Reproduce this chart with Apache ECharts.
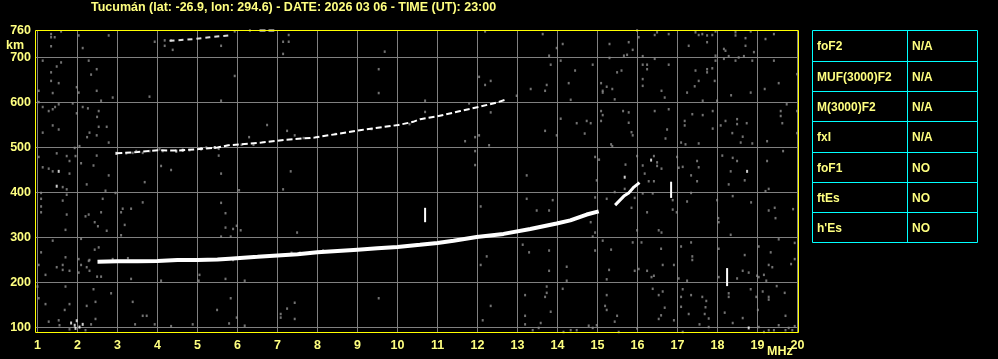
<!DOCTYPE html>
<html><head><meta charset="utf-8">
<script src="https://cdn.jsdelivr.net/npm/echarts@6/dist/echarts.min.js"></script>
<style>html,body{margin:0;padding:0;background:#000;}#c{width:998px;height:359px;}</style>
</head><body><div id="c"></div>
<script>
const titleText = 'Tucumán (lat: -26.9, lon: 294.6) - DATE: 2026 03 06 - TIME (UT): 23:00';
const xTicks = [1,2,3,4,5,6,7,8,9,10,11,12,13,14,15,16,17,18,19,20];
const yTicks = [100,200,300,400,500,600,700];
const yLabels = [100,200,300,400,500,600,700,760];
const xUnit = 'MHz';
const yUnit = 'km';

// main F trace (frequency MHz, virtual height km)
const lowerTrace = [[2.5,246],[3.0,247],[3.5,247],[4.0,248],[4.5,250],[5.0,250],[5.5,251],[5.8,253],[6.5,257],[7.0,260],[7.5,263],[8.0,267],[8.5,270],[9.0,273],[9.5,276],[10.0,279],[10.56,284],[11.0,288],[11.4,293],[11.98,301],[12.65,308],[13.32,319],[13.98,331],[14.32,338],[14.73,351],[15.03,358]];
const risingTrace = [[15.44,372],[15.66,392],[15.78,399],[15.91,412],[16.05,422]];
const secondHop = [[2.97,487],[3.5,490],[4.05,494],[4.5,493],[5.1,497],[5.5,500],[5.77,505],[6.6,511],[7.18,517],[7.93,522],[8.27,527],[9.1,539],[9.43,543],[10.02,550],[10.39,557],[10.57,563],[10.98,569],[11.57,581],[12.03,590],[12.48,600],[12.69,606]];
const thirdHopA = [[4.3,737],[4.9,741],[5.3,745],[5.8,749]];
const thirdHopB = [[6.55,760],[6.92,760]];
const verticalBars = [[[10.69,334],[10.69,366]],[[16.84,388],[16.84,424]],[[18.24,192],[18.24,232]]];
const whiteDots = [[1.53,447],[1.48,414],[1.84,110],[1.93,105],[1.98,115],[2.05,101],[2.13,107],[1.95,98],[15.68,434],[16.34,472],[18.74,447],[18.78,99],[2.97,487],[4.47,492],[4.63,494],[5.09,497],[5.43,500]];
const grayDots = [
[1.34,752],[1.59,758],[1.34,745],[1.43,745],[1.34,725],[2.03,749],[2.78,749],[2.13,721],[3.93,735],[4.18,738],[4.18,726],[4.34,738],[4.38,717],[5.59,726],
[1.13,693],[1.59,689],[1.48,680],[2.28,693],[2.48,674],[1.34,667],[2.34,662],[1.34,648],[1.53,643],[1.98,634],[1.03,626],[2.03,622],[2.48,626],[1.38,621],[2.88,611],[3.80,613],[2.59,604],[5.59,604],[1.03,601],[1.53,596],[1.88,598],[1.13,590],[1.28,581],[1.38,585],[1.44,590],[2.13,590],[2.26,587],[2.53,581],[1.98,576],[2.49,568],[1.38,549],[1.53,540],[1.13,533],[2.53,546],[2.73,546],[2.30,533],[2.24,523],[2.48,527],[2.78,511],[2.05,503],[1.93,499],
[3.22,487],[3.38,488],[3.47,492],[3.63,488],[3.80,492],[4.05,496],[4.13,492],[4.80,494],[5.22,500],[5.53,497],
[1.03,479],[1.48,487],[1.73,481],[1.95,481],[2.48,482],[1.80,470],[2.09,465],[1.13,456],[1.28,453],[1.38,447],[1.80,442],[2.40,460],[2.78,438],[4.09,459],[4.34,450],[5.59,442],[5.53,482],[1.63,412],[1.73,407],[2.23,418],[3.68,423],[2.70,404],[2.95,399],[1.73,395],[1.09,399],[1.09,386],[1.63,382],[2.63,386],[3.63,378],[3.13,364],[3.34,364],[1.09,369],[1.09,356],[1.73,351],[2.28,351],[2.20,347],[2.59,356],[3.09,356],[5.59,377],[5.70,354],[2.43,334],[2.51,325],[2.73,315],[3.18,328],[1.70,317],[3.09,305],[5.70,322],[5.59,302],[2.09,297],[1.38,293],[1.09,267],[2.43,273],[2.53,278],[1.70,256],[2.03,252],[2.28,248],[1.03,239],[1.48,234],[1.63,239],[1.63,228],[2.09,239],[2.23,234],[2.30,226],[1.20,217],[1.80,226],[2.03,222],[2.49,213],[2.59,213],[3.34,208],[4.09,204],[5.05,217],[5.03,204],[5.70,208],[1.0,191],[1.70,191],[2.40,185],[2.84,176],[1.03,165],[1.20,152],[1.80,152],[2.23,148],[2.45,157],[3.38,157],[1.68,139],[3.63,126],[3.73,126],[5.49,139],[1.28,113],[1.53,116],[2.45,119],[2.34,107],[3.44,107],[3.93,107],[4.34,103],[4.88,107],[2.20,94],[1.80,96],[1.55,105],
[2.30,250],[2.88,252],[3.26,254],
[5.93,758],[6.31,760],[7.28,750],[7.14,735],[7.28,735],[7.14,708],[9.68,713],[5.93,659],[9.53,674],[9.53,621],[6.74,550],[6.29,523],[7.24,537],[7.43,527],[7.33,447],[6.04,405],[7.14,407],[5.89,319],[5.98,326],[6.08,316],[5.83,302],[7.49,311],[5.89,250],[6.18,204],[5.83,165],[9.53,165],[7.43,155],[7.24,142],[7.08,130],[7.08,122],[7.43,119],[5.98,122],[6.18,104],[5.79,109],
[7.35,266],[7.56,266],[8.14,271],[7.65,521],[8.45,530],[9.35,541],[10.3,552],[6.1,506],[6.4,506],
[12.19,758],[13.63,752],[14.13,730],[13.98,721],[15.30,730],[13.79,704],[14.08,693],[13.83,684],[14.88,684],[15.30,699],[14.44,671],[12.04,657],[12.33,648],[12.19,639],[14.28,643],[13.73,639],[13.69,626],[13.33,630],[15.23,635],[15.13,626],[15.09,643],[15.13,622],[12.98,615],[14.33,606],[10.69,604],[10.69,579],[11.79,598],[12.33,578],[14.08,564],[14.48,554],[14.73,559],[14.83,554],[14.68,531],[15.09,581],[15.13,572],[15.09,559],[13.69,537],[13.98,527],[12.04,527],[11.94,523],[11.69,514],[12.29,505],[11.94,492],[11.94,461],[13.23,438],[14.98,427],[14.94,479],[15.04,473],[15.34,507],[12.08,369],[13.23,386],[13.48,360],[13.79,360],[13.88,383],[14.94,389],[15.23,386],[14.83,334],[14.94,311],[14.88,302],[15.13,293],[14.94,271],[15.34,273],[13.13,284],[13.29,267],[13.79,271],[12.23,258],[12.08,239],[14.23,235],[13.79,226],[15.29,228],[14.23,204],[15.23,207],[13.73,191],[14.13,186],[13.73,177],[13.69,168],[13.19,172],[15.23,172],[12.33,148],[15.19,148],[13.83,135],[15.23,139],[13.19,126],[13.19,107],[12.13,116],[13.58,110],[13.38,94],[13.53,99],[14.15,90],[14.33,94],[14.48,94],[14.78,104],[14.98,105],[14.88,99],
[15.99,760],[16.49,756],[16.43,750],[16.78,752],[17.45,756],[17.53,750],[17.62,752],[17.74,749],[17.74,734],[17.87,750],[17.95,758],[18.45,756],[18.45,749],[18.70,743],[18.83,758],[19.41,752],[15.78,734],[15.88,717],[15.74,706],[15.66,704],[16.03,745],[16.13,703],[16.13,684],[16.24,684],[16.24,674],[16.43,697],[16.78,684],[17.28,726],[17.45,671],[17.74,674],[17.74,667],[17.87,676],[17.95,704],[17.95,693],[18.16,719],[18.20,715],[18.16,697],[18.28,703],[18.45,693],[18.53,700],[18.66,703],[18.70,726],[18.91,712],[18.87,693],[19.20,741],[19.41,693],
[15.49,667],[15.60,671],[16.13,652],[16.13,637],[16.60,626],[16.68,611],[17.24,622],[17.53,648],[17.43,636],[17.93,648],[17.63,604],[17.99,604],[18.34,616],[18.83,622],[19.18,630],[19.53,643],[19.99,663],[15.37,630],[15.43,607],[19.73,596],[19.99,581],[15.64,581],[15.78,578],[15.78,555],[15.85,534],[15.88,527],[16.43,581],[16.78,585],[16.74,540],[16.70,520],[17.18,559],[17.18,549],[17.37,574],[17.63,572],[17.88,581],[17.88,542],[18.08,549],[18.20,559],[18.49,563],[18.49,552],[18.73,554],[18.63,524],[18.87,509],[18.58,511],[18.37,532],[19.24,514],[19.58,581],[19.58,570],[19.62,554],[19.99,532],[17.20,507],[17.53,509],[17.09,511],[15.37,503],
[15.99,481],[15.70,462],[16.18,442],[16.13,460],[16.28,425],[16.41,425],[16.41,481],[16.49,467],[16.49,459],[16.60,453],[16.99,479],[17.03,455],[17.13,457],[17.34,438],[17.49,425],[17.49,470],[17.53,456],[18.12,482],[18.38,477],[18.49,470],[18.33,447],[18.28,418],[18.68,427],[19.24,470],[19.64,492],[19.28,408],[19.20,403],[15.43,401],[15.68,408],[15.93,388],[16.13,398],[16.38,398],[16.88,383],[16.88,362],[16.98,356],[16.24,356],[15.85,366],[17.34,399],[17.24,380],[17.99,383],[18.02,343],[18.03,334],[18.38,392],[18.84,378],[19.28,360],[19.43,366],[19.45,343],[19.53,296],[19.89,363],[18.33,306],[16.53,316],[16.60,311],[15.99,316],[15.88,289],[16.10,289],[16.59,275],[17.09,280],[17.34,289],[17.37,258],[17.37,250],[18.03,275],[19.03,280],[19.33,267],[19.93,288],[19.84,241],[19.93,252],[18.68,261],[19.28,239],[19.37,234],
[15.93,226],[16.03,230],[16.24,226],[16.41,215],[16.35,212],[16.63,239],[16.91,239],[17.03,209],[17.24,204],[18.03,212],[18.49,209],[18.63,226],[18.78,222],[18.99,215],[19.03,212],[19.16,217],[19.22,204],[19.48,192],[19.68,177],[16.38,186],[16.53,172],[16.63,180],[17.13,185],[17.09,168],[17.09,146],[17.34,172],[17.62,168],[17.72,159],[18.28,176],[18.28,168],[18.83,185],[18.97,168],[19.01,139],[19.13,180],[19.28,168],[19.28,162],[15.49,126],[15.43,113],[15.99,98],[15.53,90],[16.53,119],[16.59,127],[16.68,144],[16.91,116],[17.13,90],[17.28,130],[17.55,107],[17.70,145],[17.68,130],[17.78,120],[17.78,101],[18.18,133],[18.38,110],[18.63,121],[19.03,101],[19.16,90],[19.28,94],[19.41,94],[19.53,105],[19.70,126],[19.70,94],[19.78,99],[19.87,94],[19.93,103]
];

const tableLabels = ['foF2','MUF(3000)F2','M(3000)F2','fxI','foF1','ftEs',"h'Es"];
const tableValues = ['N/A','N/A','N/A','N/A','NO','NO','NO'];

const yellowText = '#ffff80';
const font = '"Liberation Sans", Arial, sans-serif';
const chart = echarts.init(document.getElementById('c'), null, {renderer:'canvas'});

// table graphics
const tbl = [];
const tx0 = 812.5, tx1 = 907.5, tx2 = 977.5;
const rowY = i => 30.5 + Math.ceil(i * 212 / 7);
for (let i = 0; i <= tableLabels.length; i++) {
  const y = rowY(i);
  tbl.push({type:'line', shape:{x1:tx0, y1:y, x2:tx2, y2:y}, style:{stroke:'#00ffff', lineWidth:1}, silent:true});
}
[tx0, tx1, tx2].forEach(x => tbl.push({type:'line', shape:{x1:x, y1:rowY(0), x2:x, y2:rowY(tableLabels.length)}, style:{stroke:'#00ffff', lineWidth:1}, silent:true}));
tableLabels.forEach((t, i) => {
  const cy = (rowY(i) + rowY(i + 1)) / 2 + 1;
  tbl.push({type:'text', x:817, y:cy, style:{text:t, fill:yellowText, font:'bold 12px ' + font, verticalAlign:'middle', align:'left'}, silent:true});
  tbl.push({type:'text', x:912, y:cy, style:{text:tableValues[i], fill:yellowText, font:'bold 12px ' + font, verticalAlign:'middle', align:'left'}, silent:true});
});

const series = [
  {type:'scatter', data:grayDots, symbol:'rect', symbolSize:[2,2.5], itemStyle:{color:'#8e8e8e'}, silent:true, z:2},
  {type:'line', data:secondHop, showSymbol:false, lineStyle:{color:'#ffffff', width:2, type:[6,3]}, silent:true, z:3},
  {type:'line', data:thirdHopA, showSymbol:false, lineStyle:{color:'#dddddd', width:2, type:[5,4]}, silent:true, z:3},
  {type:'line', data:thirdHopB, showSymbol:false, lineStyle:{color:'#ffffff', width:2, type:[6,3]}, silent:true, z:3},
  {type:'line', data:lowerTrace, showSymbol:false, lineStyle:{color:'#ffffff', width:4}, silent:true, z:4},
  {type:'line', data:risingTrace, showSymbol:false, lineStyle:{color:'#ffffff', width:3}, silent:true, z:4},
  {type:'scatter', data:whiteDots, symbol:'rect', symbolSize:[2,3], itemStyle:{color:'#ffffff'}, silent:true, z:4}
];
verticalBars.forEach(b => series.push({type:'line', data:b, showSymbol:false, lineStyle:{color:'#ffffff', width:2}, silent:true, z:4}));

chart.setOption({
  backgroundColor:'#000000',
  animation:false,
  grid:{left:36, top:30, width:762, height:303, show:false, containLabel:false, outerBoundsMode:'none'},
  xAxis:{type:'value', min:0.9625, max:20.0125,
    axisLine:{show:false}, axisTick:{show:false, customValues:xTicks},
    axisLabel:{customValues:xTicks, color:yellowText, fontSize:12.5, fontWeight:'bold', fontFamily:font, margin:6, hideOverlap:false},
    splitLine:{show:true, lineStyle:{color:'#808080', width:1}}},
  yAxis:{type:'value', min:87.78, max:761.11,
    axisLine:{show:false}, axisTick:{show:false, customValues:yTicks},
    axisLabel:{customValues:yLabels, color:yellowText, fontSize:12.5, fontWeight:'bold', fontFamily:font, margin:5, hideOverlap:false},
    splitLine:{show:true, lineStyle:{color:'#808080', width:1}}},
  graphic:[
    {type:'rect', shape:{x:35.5, y:30.5, width:763, height:302}, style:{fill:null, stroke:'#ffff00', lineWidth:1}, silent:true, z:100},
    {type:'text', left:91, top:1, style:{text:titleText, fill:yellowText, font:'bold 12.5px ' + font}, silent:true},
    {type:'text', left:6, top:39, style:{text:yUnit, fill:yellowText, font:'bold 12.5px ' + font}, silent:true},
    {type:'text', left:767, top:345, style:{text:xUnit, fill:yellowText, font:'bold 12.5px ' + font}, silent:true}
  ].concat(tbl),
  series:series
});
</script>
</body></html>
